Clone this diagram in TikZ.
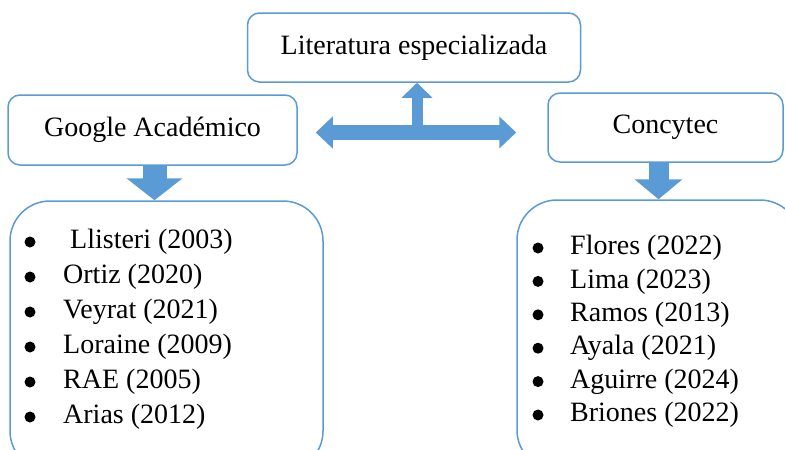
\documentclass[tikz,border=0pt]{standalone}
\usepackage{fontspec}
\setmainfont{Liberation Serif}
\usetikzlibrary{arrows.meta}
\definecolor{officeblue}{HTML}{5B9BD5}
\begin{document}
\begin{tikzpicture}[x=1pt,y=-1pt,line join=round,font=\fontsize{28}{34}\selectfont]
	\tikzset{box/.style={draw=officeblue,line width=1.5pt,rounded corners=12pt,fill=white,inner sep=0pt},
		listbox/.style={box,rounded corners=40pt},
		dot/.style={circle,fill=black,inner sep=0pt,minimum size=11pt},
		item/.style={anchor=west,inner sep=0pt}}
	\useasboundingbox (0,0) rectangle (785,450);
	\clip (0,0) rectangle (785,450);
	% cajas
	\node[box,minimum width=333pt,minimum height=69pt] (lit) at (414,47.5) {Literatura especializada};
	\node[box,minimum width=289pt,minimum height=70pt] (google) at (152.5,130) {Google Académico};
	\node[box,minimum width=235pt,minimum height=69pt] (concytec) at (665.5,127.5) {Concytec};
	\node[listbox,minimum width=313pt,minimum height=270pt] (glist) at (166.5,336) {};
	\node[listbox,minimum width=283pt,minimum height=270pt] (clist) at (658.5,335) {};
	% flechas
	\coordinate (hub) at (417,132.5);
	\draw[officeblue,line width=15pt,{Triangle[width=31pt,length=17pt]}-{Triangle[width=31pt,length=17pt]},shorten <=18pt,shorten >=31pt] (google.east |- hub) -- (concytec.west |- hub);
	\draw[officeblue,line width=11pt,-{Triangle[width=30pt,length=15pt]}] (hub) -- (hub |- lit.south);
	\draw[officeblue,line width=24pt,-{Triangle[width=55pt,length=22pt]}] ([xshift=2pt]google.south) -- ([xshift=2pt]google.south |- glist.north);
	\draw[officeblue,line width=20pt,-{Triangle[width=47pt,length=20pt]}] (clist.north |- concytec.south) -- (clist.north);
	% listas
	\foreach \txt [count=\i] in {\ Llisteri (2003),Ortiz (2020),Veyrat (2021),Loraine (2009),RAE (2005),Arias (2012)}{
		\node[dot] (gdot\i) at (30,{242+35*(\i-1)}) {};
		\node[item] (gitem\i) at (63,{242+35*(\i-1)}) {\txt};
	}
	\foreach \txt [count=\i] in {Flores (2022),Lima (2023),Ramos (2013),Ayala (2021),Aguirre (2024),Briones (2022)}{
		\node[dot] (cdot\i) at (538,{248+33.4*(\i-1)}) {};
		\node[item] (citem\i) at (570,{248+33.4*(\i-1)}) {\txt};
	}
\end{tikzpicture}
\end{document}
